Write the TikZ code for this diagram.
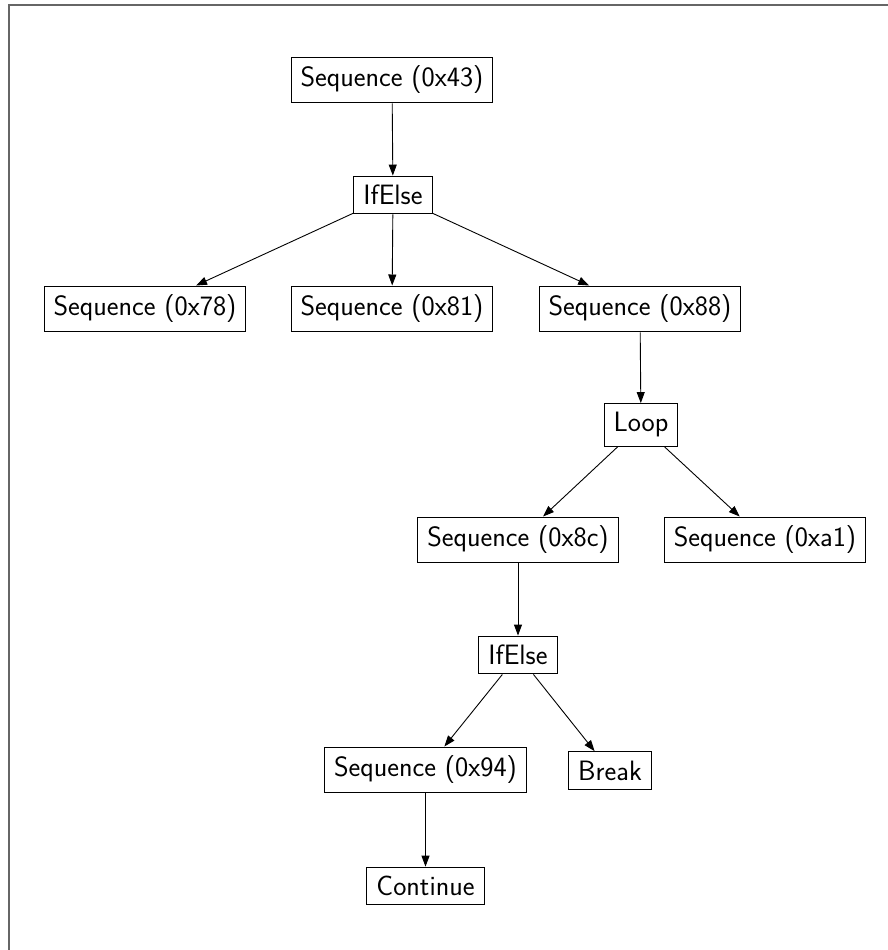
\documentclass[tikz,border=0pt]{standalone}
\usetikzlibrary{arrows.meta}
\begin{document}
\begin{tikzpicture}[x=1pt,y=-1pt,
  box/.style={draw,line width=1pt,inner xsep=9.5pt,inner ysep=9pt,font=\fontsize{28}{32}\selectfont\sffamily},
  edge/.style={line width=0.9pt,-{Triangle[length=11pt,width=8pt]}}]
\useasboundingbox (0,0) rectangle (888,950);
\draw[line width=2pt,color=black!60] (8.5,950) -- (8.5,5.5) -- (888,5.5);
\node[box] (s43) at (392,80) {Sequence (0x43)};
\node[box] (if1) at (393,195) {IfElse};
\node[box] (s78) at (145,309) {Sequence (0x78)};
\node[box] (s81) at (392,309) {Sequence (0x81)};
\node[box] (s88) at (640,309) {Sequence (0x88)};
\node[box] (loop) at (641,425) {Loop};
\node[box] (s8c) at (518,540) {Sequence (0x8c)};
\node[box] (sa1) at (765,540) {Sequence (0xa1)};
\node[box] (if2) at (518,655) {IfElse};
\node[box] (s94) at (425.5,770) {Sequence (0x94)};
\node[box] (brk) at (610,770.5) {Break};
\node[box] (cont) at (425.5,886) {Continue};
\draw[edge] (s43) -- (if1);
\draw[edge] (if1) -- (s78);
\draw[edge] (if1) -- (s81);
\draw[edge] (if1) -- (s88);
\draw[edge] (s88) -- (loop);
\draw[edge] (loop) -- (s8c);
\draw[edge] (loop) -- (sa1);
\draw[edge] (s8c) -- (if2);
\draw[edge] (if2) -- (s94);
\draw[edge] (if2) -- (brk);
\draw[edge] (s94) -- (cont);
\end{tikzpicture}
\end{document}
